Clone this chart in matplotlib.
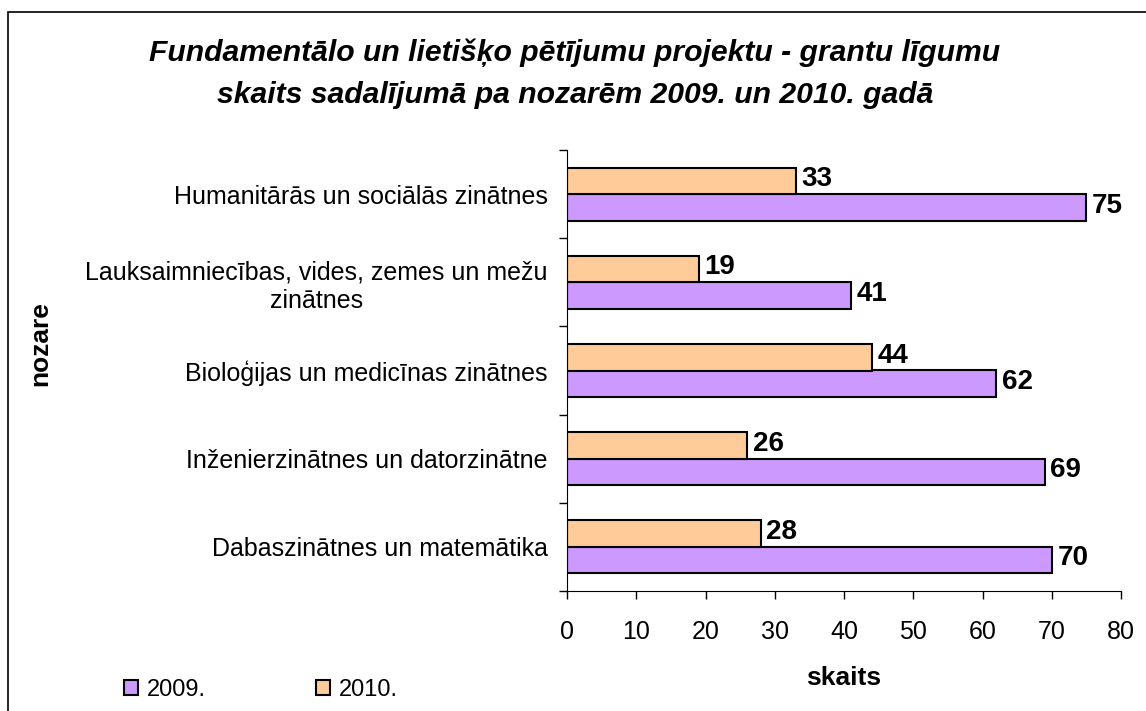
import numpy as np
import matplotlib.pyplot as plt
from matplotlib.patches import Rectangle

plt.rcParams['font.family'] = ['Liberation Sans', 'DejaVu Sans']

categories = ['Dabaszinātnes un matemātika',
              'Inženierzinātnes un datorzinātne',
              'Bioloģijas un medicīnas zinātnes',
              'Lauksaimniecības, vides, zemes un mežu\nzinātnes',
              'Humanitārās un sociālās zinātnes']
values_2009 = [70, 69, 62, 41, 75]
values_2010 = [28, 26, 44, 19, 33]
series_labels = ['2009.', '2010.']
x_ticks = [0, 10, 20, 30, 40, 50, 60, 70, 80]

color_2009 = '#CC99FF'
color_2010 = '#FFCC99'


def main():
    fig = plt.figure(figsize=(11.46, 7.11), dpi=100)
    ax = fig.add_axes([567 / 1146, 1 - 591 / 711, (1121 - 567) / 1146, (591 - 150) / 711])

    # outer frame of the chart (right/bottom edges fall off the image)
    fig.patches.append(Rectangle((8 / 1146, -0.1), 1.2, 1 - 12 / 711 + 0.1,
                                 transform=fig.transFigure, fill=False,
                                 edgecolor='black', linewidth=1.2))

    y = np.arange(len(categories))
    h = 0.3
    bars09 = ax.barh(y - h / 2, values_2009, height=h, color=color_2009,
                     edgecolor='black', linewidth=1.5, label=series_labels[0])
    bars10 = ax.barh(y + h / 2, values_2010, height=h, color=color_2010,
                     edgecolor='black', linewidth=1.5, label=series_labels[1])

    for bars in (bars09, bars10):
        for b in bars:
            ax.text(b.get_width() + 0.8, b.get_y() + b.get_height() / 2 + 0.02,
                    str(int(b.get_width())), va='center', ha='left',
                    fontsize=20, fontweight='bold')

    ax.set_xlim(0, 80)
    ax.set_ylim(-0.5, len(categories) - 0.5)
    ax.set_xticks(x_ticks)
    ax.set_xticklabels([str(t) for t in x_ticks], fontsize=18)
    ax.tick_params(axis='x', length=6, width=1, direction='out', pad=15)

    # category boundaries get the tick marks, labels sit at centers
    ax.set_yticks(np.arange(len(categories) + 1) - 0.5)
    ax.set_yticklabels([])
    ax.tick_params(axis='y', which='major', length=6, width=1, direction='out')
    ax.set_yticks(y, minor=True)
    ax.set_yticklabels(categories, minor=True, fontsize=18, ha='right',
                       multialignment='center')
    ax.tick_params(axis='y', which='minor', length=0, pad=14)

    for s in ('top', 'right'):
        ax.spines[s].set_visible(False)

    fig.text(844 / 1146, 1 - 678 / 711, 'skaits', fontsize=19,
             fontweight='bold', ha='center', va='center')
    fig.text(40 / 1146, 1 - 344 / 711, 'nozare', rotation=90, fontsize=19,
             fontweight='bold', ha='center', va='center')

    fig.text(575 / 1146, 1 - 74 / 711,
             'Fundamentālo un lietišķo pētījumu projektu - grantu līgumu\n'
             'skaits sadalījumā pa nozarēm 2009. un 2010. gadā',
             ha='center', va='center', fontsize=21.7, fontweight='bold',
             style='italic', linespacing=1.62)

    ax.legend(loc='center left', bbox_to_anchor=(124 / 1146, 1 - 690 / 711),
              bbox_transform=fig.transFigure, ncol=2, frameon=False,
              fontsize=17, handlelength=0.6, handleheight=0.6,
              columnspacing=4.66, handletextpad=0.38,
              borderpad=0, borderaxespad=0)

    fig.savefig('out.png', dpi=100)


if __name__ == '__main__':
    main()
